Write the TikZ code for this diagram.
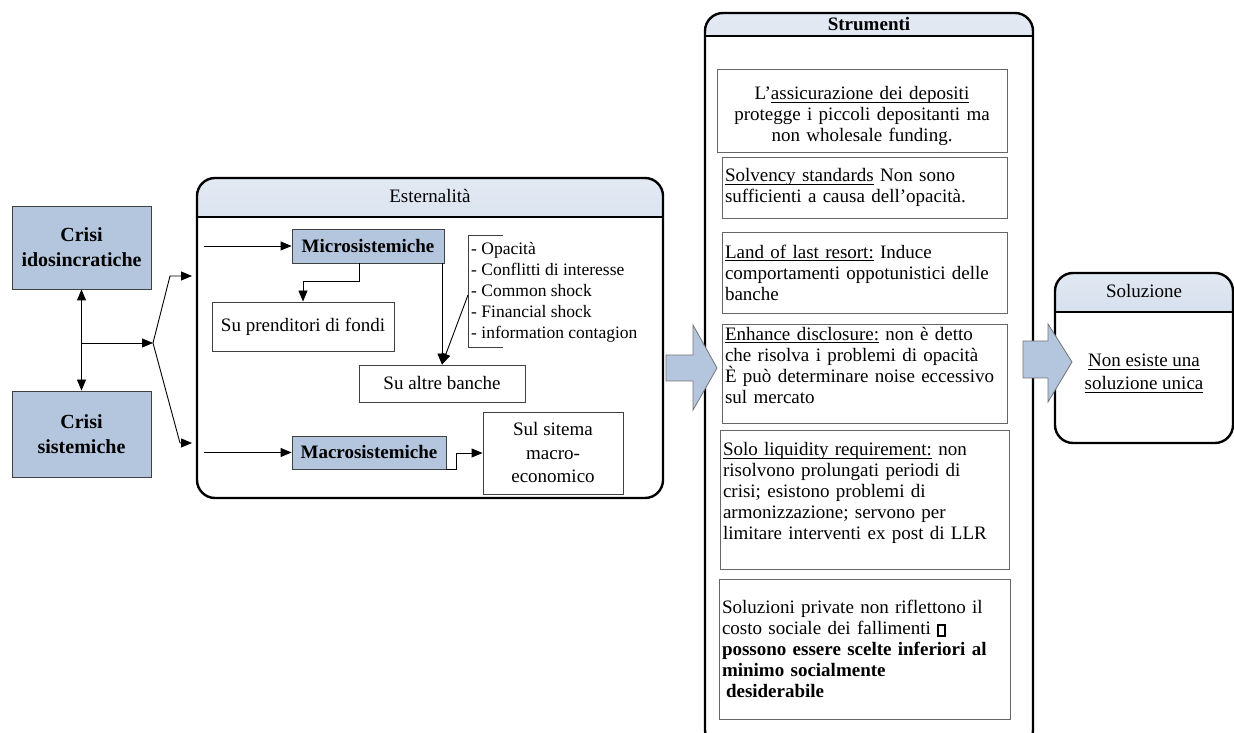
\documentclass[tikz,border=0pt]{standalone}
\usepackage{fontspec}
\setmainfont{Liberation Serif}
\usetikzlibrary{arrows.meta}
\definecolor{boxblue}{RGB}{180,198,222}
\definecolor{hdrtop}{RGB}{226,233,243}
\definecolor{hdrblue}{RGB}{172,190,216}
\newcommand{\nochar}{{\setlength{\fboxsep}{0pt}\setlength{\fboxrule}{2pt}\fbox{\rule{0pt}{9pt}\hspace{5pt}}}}
\newcommand{\undl}[1]{\underline{\raisebox{0pt}[\height][1.2pt]{#1}}}

\begin{document}
\begin{tikzpicture}[x=1pt, y=1pt, >={Triangle[length=11pt,width=9pt]},
    crisibox/.style={draw=black!75, fill=boxblue, line width=0.9pt, minimum width=139pt, align=center, font=\bfseries\fontsize{20}{25}\selectfont},
    effbox/.style={draw=black!75, line width=0.9pt, inner sep=0pt, font=\fontsize{19}{23.5}\selectfont},
    kindbox/.style={effbox, fill=boxblue, font=\bfseries\fontsize{19}{23}\selectfont},
    toolbox/.style={draw=black!60, line width=0.9pt, inner xsep=3pt, inner ysep=0pt, text width=279pt, align=left, font=\fontsize{19}{21}\selectfont},
    panel/.style={draw, line width=2.4pt, rounded corners=18pt, inner sep=0pt,
        path picture={
            \shade[sharp corners, top color=hdrtop, bottom color=hdrblue] (path picture bounding box.north west) rectangle ([yshift=-#1]path picture bounding box.north east);
            \draw[sharp corners, line width=2.4pt] ([yshift=-#1]path picture bounding box.north west) -- ([yshift=-#1]path picture bounding box.north east);
        }},
    paneltitle/.style={inner sep=0pt, font=\fontsize{19}{23}\selectfont},
    link/.style={->, line width=0.9pt},
    bigarrow/.style={draw=black!55, fill=boxblue, line width=0.8pt}]
        \useasboundingbox (0,0) rectangle (1234,733);
        \clip (0,0) rectangle (1234,733);

        % --- Crisis types ---
        \node[crisibox, minimum height=83pt] (idio) at (81.5,485.5) {Crisi\\idosincratiche};
        \node[crisibox, minimum height=86pt] (sist) at (81.5,299) {Crisi\\sistemiche};
        \draw[link, <->] (idio) -- (sist);
        \coordinate (crmid) at (81.5,390);
        \coordinate (fork) at (153,390);
        \coordinate (upbend) at (170,457);
        \coordinate (uptip) at (192,457);
        \coordinate (lobend) at (180,290);
        \coordinate (lotip) at (192,290);
        \draw[link] (crmid) -- (fork);
        \draw[link] (fork) -- (upbend) -- (uptip);
        \draw[link] (fork) -- (lobend) -- (lotip);
        % ---

        % --- Externalities panel ---
        \node[panel=39pt, minimum width=466pt, minimum height=320pt] (ext) at (430,395) {};
        \node[paneltitle] (exttitle) at ([yshift=-19.5pt]ext.north) {Esternalità};
        \node[kindbox, minimum width=152pt, minimum height=34pt] (micro) at (368,487) {Microsistemiche};
        \node[kindbox, minimum width=154pt, minimum height=33pt] (macro) at (369,280.5) {Macrosistemiche};
        \node[effbox, minimum width=182pt, minimum height=49pt] (prend) at (303,406.5) {Su prenditori di fondi};
        \node[effbox, minimum width=166pt, minimum height=37pt] (altre) at (442,349.5) {Su altre banche};
        \node[effbox, minimum width=140pt, minimum height=82pt, align=center] (sul) at (553,280) {Sul sitema\\macro-\\economico};
        \node[anchor=west, align=left, inner sep=0pt, font=\fontsize{17.5}{21}\selectfont] (causes) at (471,441)
            {- Opacità\\- Conflitti di interesse\\- Common shock\\- Financial shock\\- information contagion};
        \draw[line width=0.9pt, draw=black!75] (503,498) -- (468,498) -- (468,386) -- (503,386);

        \coordinate (microin) at (204,487);
        \coordinate (macroin) at (204,280.5);
        \coordinate (mpbend) at (359,452);
        \coordinate (brk) at (468,438);
        \draw[link] (microin) -- (micro);
        \draw[link] (macroin) -- (macro);
        \draw[link] (micro.south -| mpbend) -- (mpbend) -| (prend.north);
        \draw[link] (micro.south -| altre.north) -- (altre.north);
        \draw[link] (brk) -- (altre.north);
        \draw[link] (macro.south east) -- ++(10,0) |- (sul.west);
        % ---

        % --- Instruments panel ---
        \node[panel=23pt, minimum width=328pt, minimum height=735pt] (strum) at (869,352.5) {};
        \node[paneltitle, font=\bfseries\fontsize{19}{23}\selectfont] (strumtitle) at ([yshift=-12.5pt]strum.north) {Strumenti};
        \node[toolbox, text width=284pt, align=center, minimum height=83pt] (dep) at (862,622.5)
            {\rule{0pt}{24pt}L'\undl{assicurazione dei depositi}\\protegge i piccoli depositanti ma\\non wholesale funding.};
        \node[toolbox, minimum height=61pt] (solv) at (864.5,545.5)
            {\undl{Solvency standards} Non sono\\sufficienti a causa dell'opacità.};
        \node[toolbox, minimum height=81pt] (llr) at (864.5,460.5)
            {\undl{Land of last resort:} Induce\\comportamenti oppotunistici delle\\banche};
        \node[toolbox, minimum height=99pt] (discl) at (864.5,359.5)
            {\undl{Enhance disclosure:} non è detto\\che risolva i problemi di opacità\\È può determinare noise eccessivo\\sul mercato\par\vspace*{17pt}\hrule height 0pt};
        \node[toolbox, text width=283pt, minimum height=139pt] (liq) at (864.5,233.5)
            {\undl{Solo liquidity requirement:} non\\risolvono prolungati periodi di\\crisi; esistono problemi di\\armonizzazione; servono per\\limitare interventi ex post di LLR\par\vspace*{13pt}\hrule height 0pt};
        \node[toolbox, text width=285pt, minimum height=140pt] (priv) at (864.5,84)
            {Soluzioni private non riflettono il\\costo sociale dei fallimenti \nochar\\\textbf{possono essere scelte inferiori al}\\\textbf{minimo socialmente}\\\hspace*{4pt}\textbf{desiderabile}};
        % ---

        % --- Solution panel ---
        \node[panel=39pt, minimum width=178pt, minimum height=170pt] (sol) at (1144,375) {};
        \node[paneltitle] (soltitle) at ([yshift=-19.5pt]sol.north) {Soluzione};
        \node[align=center, inner sep=0pt, font=\fontsize{19}{23}\selectfont] (nosol) at (1144,360)
            {\undl{Non esiste una}\\\undl{soluzione unica}};
        % ---

        % --- Block arrows between panels ---
        \draw[bigarrow] (666,378) -- (693,378) -- (693,408) -- (717,365) -- (693,323) -- (693,352) -- (666,352) -- cycle;
        \draw[bigarrow] (1023,392) -- (1048,392) -- (1048,409) -- (1072,371) -- (1048,331) -- (1048,355) -- (1023,355) -- cycle;
        % ---
\end{tikzpicture}
\end{document}
